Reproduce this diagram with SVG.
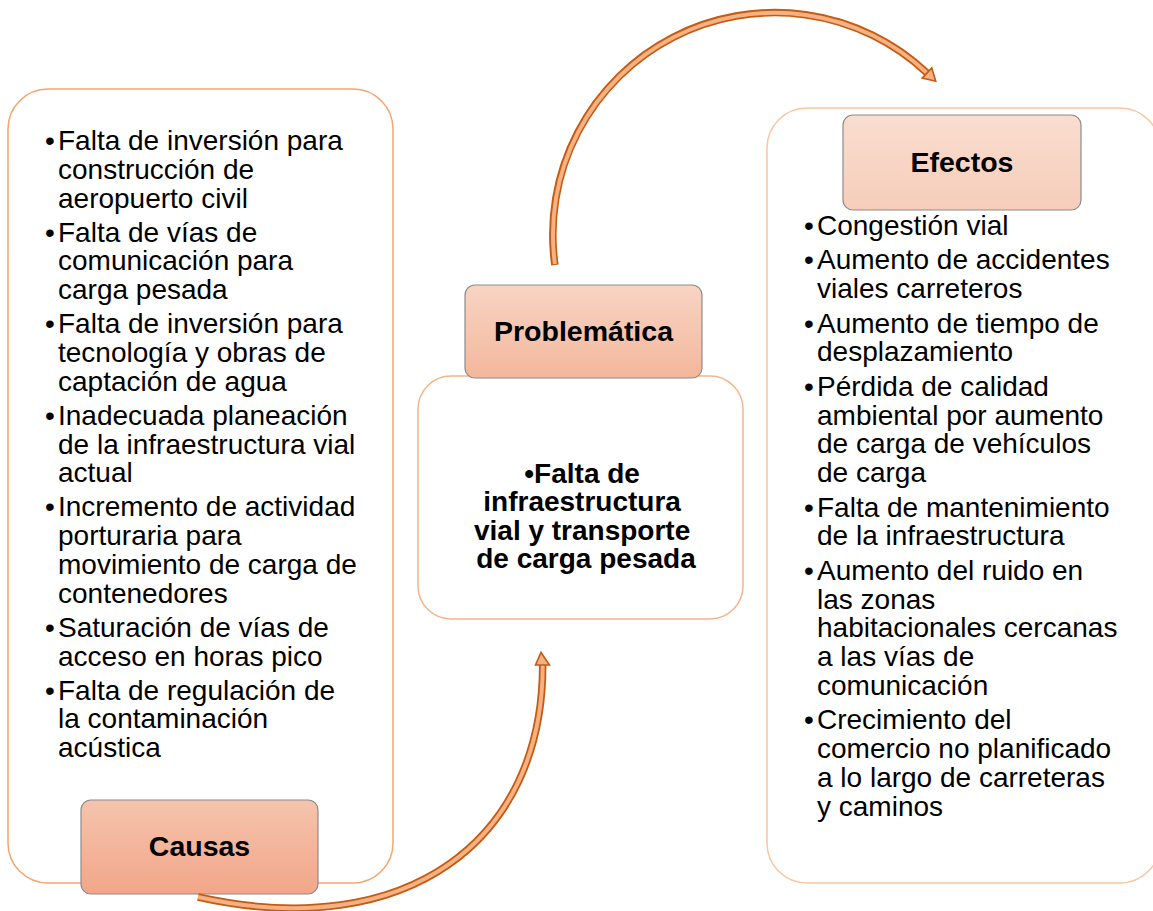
<svg xmlns="http://www.w3.org/2000/svg" width="1153" height="911" viewBox="0 0 1153 911">
<defs>
<linearGradient id="gC" x1="0" y1="0" x2="0" y2="1"><stop offset="0" stop-color="#F5C4AD"/><stop offset="1" stop-color="#F2A689"/></linearGradient>
<linearGradient id="gP" x1="0" y1="0" x2="0" y2="1"><stop offset="0" stop-color="#F8D4C3"/><stop offset="1" stop-color="#F3B79C"/></linearGradient>
<linearGradient id="gE" x1="0" y1="0" x2="0" y2="1"><stop offset="0" stop-color="#F9DDCF"/><stop offset="1" stop-color="#F6CDBA"/></linearGradient>
<style>
.t{font-family:"Liberation Sans",Arial,sans-serif;font-size:28px;fill:#000}
.b{font-family:"Liberation Sans",Arial,sans-serif;font-size:28px;font-weight:bold;fill:#000}
.h{font-family:"Liberation Sans",Arial,sans-serif;font-size:28.5px;font-weight:bold;fill:#000;text-anchor:middle}
.hdr{stroke:#8C8C8C;stroke-width:1.2}
.sh-o{fill:none;stroke:#C55A11;stroke-width:7.5}
.sh-i{fill:none;stroke:#F4B183;stroke-width:4}
.hd{fill:#F4B183;stroke:#C55A11;stroke-width:1.6;stroke-linejoin:miter}
</style>
</defs>
<rect width="1153" height="911" fill="#FFFFFF"/>

<g id="causas-box">
<rect x="8" y="89" width="385" height="794" rx="40" fill="#FFFFFF" stroke="#F5A46E" stroke-width="1.5"/>
<text class="t">
<tspan x="45" y="150">•</tspan><tspan x="58" y="150">Falta de inversión para</tspan>
<tspan x="58" y="178.8">construcción de</tspan>
<tspan x="58" y="207.6">aeropuerto civil</tspan>
<tspan x="45" y="241.6">•</tspan><tspan x="58" y="241.6">Falta de vías de</tspan>
<tspan x="58" y="270.4">comunicación para</tspan>
<tspan x="58" y="299.2">carga pesada</tspan>
<tspan x="45" y="333.2">•</tspan><tspan x="58" y="333.2">Falta de inversión para</tspan>
<tspan x="58" y="362">tecnología y obras de</tspan>
<tspan x="58" y="390.8">captación de agua</tspan>
<tspan x="45" y="424.8">•</tspan><tspan x="58" y="424.8">Inadecuada planeación</tspan>
<tspan x="58" y="453.6">de la infraestructura vial</tspan>
<tspan x="58" y="482.4">actual</tspan>
<tspan x="45" y="516.4">•</tspan><tspan x="58" y="516.4">Incremento de actividad</tspan>
<tspan x="58" y="545.2">porturaria para</tspan>
<tspan x="58" y="574">movimiento de carga de</tspan>
<tspan x="58" y="602.8">contenedores</tspan>
<tspan x="45" y="636.8">•</tspan><tspan x="58" y="636.8">Saturación de vías de</tspan>
<tspan x="58" y="665.6">acceso en horas pico</tspan>
<tspan x="45" y="699.6">•</tspan><tspan x="58" y="699.6">Falta de regulación de</tspan>
<tspan x="58" y="728.4">la contaminación</tspan>
<tspan x="58" y="757.2">acústica</tspan>
</text>
</g>

<g id="causas">
<rect class="hdr" x="81" y="800" width="237" height="94" rx="10" fill="url(#gC)"/>
<text class="h" x="199.5" y="856">Causas</text>
</g>

<g id="problematica-box">
<rect x="418" y="376" width="325" height="243" rx="33" fill="#FFFFFF" stroke="#F6B48A" stroke-width="1.5"/>
<text class="b" text-anchor="middle">
<tspan x="586" y="483">•Falta de</tspan>
<tspan x="586" y="511.3">infraestructura</tspan>
<tspan x="586" y="539.6">vial y transporte</tspan>
<tspan x="586" y="567.9">de carga pesada</tspan>
</text>
</g>

<g id="problematica">
<rect class="hdr" x="465" y="285" width="237" height="93" rx="10" fill="url(#gP)"/>
<text class="h" x="583.5" y="341">Problemática</text>
</g>

<g id="efectos-box">
<rect x="767" y="108" width="393" height="775" rx="40" fill="#FFFFFF" stroke="#F9C6A3" stroke-width="1.5"/>
<text class="t">
<tspan x="804" y="235">•</tspan><tspan x="817" y="235">Congestión vial</tspan>
<tspan x="804" y="269.4">•</tspan><tspan x="817" y="269.4">Aumento de accidentes</tspan>
<tspan x="817" y="298.2">viales carreteros</tspan>
<tspan x="804" y="332.6">•</tspan><tspan x="817" y="332.6">Aumento de tiempo de</tspan>
<tspan x="817" y="361.4">desplazamiento</tspan>
<tspan x="804" y="395.8">•</tspan><tspan x="817" y="395.8">Pérdida de calidad</tspan>
<tspan x="817" y="424.6">ambiental por aumento</tspan>
<tspan x="817" y="453.4">de carga de vehículos</tspan>
<tspan x="817" y="482.2">de carga</tspan>
<tspan x="804" y="516.6">•</tspan><tspan x="817" y="516.6">Falta de mantenimiento</tspan>
<tspan x="817" y="545.4">de la infraestructura</tspan>
<tspan x="804" y="579.8">•</tspan><tspan x="817" y="579.8">Aumento del ruido en</tspan>
<tspan x="817" y="608.6">las zonas</tspan>
<tspan x="817" y="637.4">habitacionales cercanas</tspan>
<tspan x="817" y="666.2">a las vías de</tspan>
<tspan x="817" y="695">comunicación</tspan>
<tspan x="804" y="729.4">•</tspan><tspan x="817" y="729.4">Crecimiento del</tspan>
<tspan x="817" y="758.2">comercio no planificado</tspan>
<tspan x="817" y="787">a lo largo de carreteras</tspan>
<tspan x="817" y="815.8">y caminos</tspan>
</text>
</g>

<g id="efectos">
<rect class="hdr" x="843" y="115" width="238" height="95" rx="10" fill="url(#gE)"/>
<text class="h" x="962" y="172">Efectos</text>
</g>

<g id="connectors">
<path class="sh-o" d="M554.9,265 A222,222 0 0 1 927,73"/>
<path class="sh-i" d="M554.9,264 A222,222 0 0 1 927,73"/>
<polygon class="hd" points="931.8,67.9 935.7,81.2 922.2,78.1"/>
<path class="sh-o" d="M198,897 C407.8,943.7 543,840 542.7,665"/>
<path class="sh-i" d="M198,897 C407.8,943.7 543,840 542.7,665"/>
<polygon class="hd" points="535.5,665 541,652.5 549.5,665"/>
</g>
</svg>
